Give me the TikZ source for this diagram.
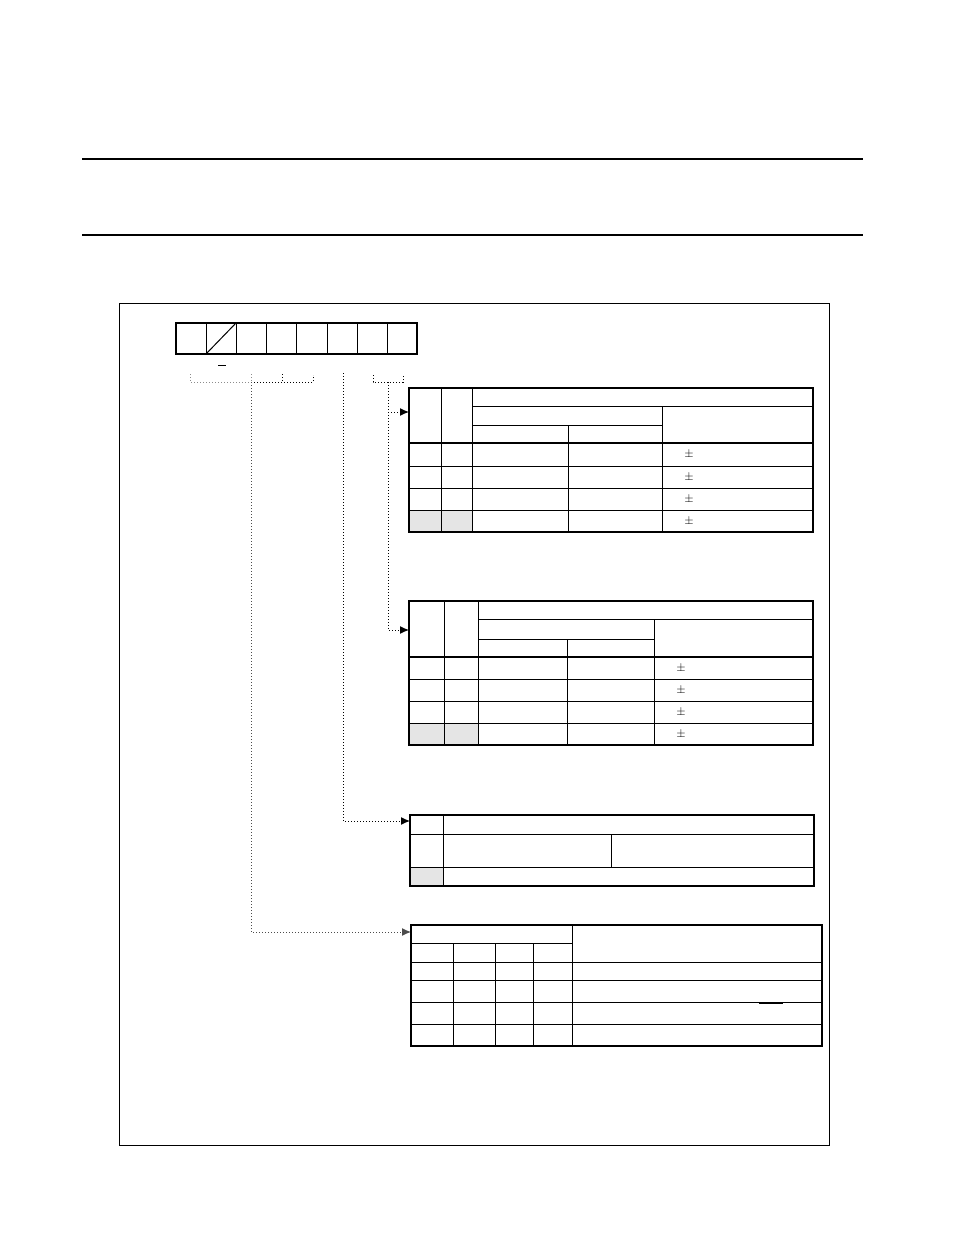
\documentclass[tikz,border=0pt]{standalone}
\usepackage{amsmath}
\usepackage{tikz}
\usetikzlibrary{arrows.meta}

\begin{document}
\begin{tikzpicture}[x=1pt,y=1pt]
\tikzstyle{every node}+=[inner sep=0pt]
\tikzset{cell/.style={black, line width=1pt},
  frame/.style={black, line width=2pt},
  lead/.style={black, line width=1pt, dash pattern=on 1pt off 2pt},
  tip/.style={-{Latex[length=9pt,width=8pt]}},
  pmsign/.style={font=\fontsize{12}{13}\selectfont}}
\useasboundingbox (0,0) rectangle (954,-1235);
% page rules and frame
\draw [black, line width=1.3pt] (82,-159) -- (863,-159);
\draw [black, line width=1.3pt] (82,-235) -- (863,-235);
\draw [black, line width=1pt] (119,-303) rectangle (829,-1145);
% register bits
\foreach \x in {206,236,266,296,327,357,387}
  \draw [cell] (\x,-323) -- (\x,-354);
\draw [frame] (176,-323) rectangle (417,-354);
\draw [cell] (206,-354) -- (236,-323);
\draw [cell] (218,-365) -- (226,-365);
% bit groups
\draw [lead, black!45] (190,-374) -- (190,-382) -- (251,-382);
\draw [lead] (251,-382) -- (313,-382) -- (313,-375);
\draw [lead, black!45] (251,-374) -- (251,-382);
\draw [lead] (282,-374) -- (282,-382);
\draw [lead] (373,-375) -- (373,-382) -- (403,-382) -- (403,-375);
\coordinate (grpA) at (251,-382);
\coordinate (grpB) at (343,-373);
\coordinate (grpC) at (388,-382);
\coordinate (tabA) at (409,-412);
\coordinate (tabB) at (409,-630);
\coordinate (tabC) at (410,-821);
\coordinate (tabD) at (411,-932);
\draw [lead, tip] (grpC) |- (tabA);
\draw [lead, tip] (grpC) |- (tabB);
\draw [lead, tip] (grpB) |- (tabC);
\draw [lead, black!70, tip] (grpA) |- (tabD);
% table 1
\fill [black!10] (409,-510) rectangle (472,-532);
\draw [cell] (472,-406) -- (813,-406);
\draw [cell] (472,-425) -- (662,-425);
\draw [cell] (441,-388) -- (441,-532);
\draw [cell] (472,-388) -- (472,-532);
\draw [cell] (568,-425) -- (568,-532);
\draw [cell] (662,-406) -- (662,-532);
\foreach \y in {466,488,510}
  \draw [cell] (409,-\y) -- (813,-\y);
\draw [frame] (409,-443) -- (813,-443);
\draw [frame] (409,-388) rectangle (813,-532);
\foreach \y [count=\i] in {454.5,477,499,521}
  \node [pmsign] (pmA\i) at (689,-\y) {$\pm$};
% table 2
\fill [black!10] (409,-723) rectangle (478,-745);
\draw [cell] (478,-619) -- (813,-619);
\draw [cell] (478,-639) -- (654,-639);
\draw [cell] (444,-601) -- (444,-745);
\draw [cell] (478,-601) -- (478,-745);
\draw [cell] (567,-639) -- (567,-745);
\draw [cell] (654,-619) -- (654,-745);
\foreach \y in {679,701,723}
  \draw [cell] (409,-\y) -- (813,-\y);
\draw [frame] (409,-657) -- (813,-657);
\draw [frame] (409,-601) rectangle (813,-745);
\foreach \y [count=\i] in {668,690,712,734}
  \node [pmsign] (pmB\i) at (681,-\y) {$\pm$};
% table 3
\fill [black!10] (410,-867) rectangle (443,-886);
\draw [cell] (410,-834) -- (814,-834);
\draw [cell] (410,-867) -- (814,-867);
\draw [cell] (443,-815) -- (443,-886);
\draw [cell] (611,-834) -- (611,-867);
\draw [frame] (410,-815) rectangle (814,-886);
% table 4
\draw [cell] (411,-943) -- (572,-943);
\foreach \x in {453,495,533}
  \draw [cell] (\x,-943) -- (\x,-1046);
\draw [cell] (572,-925) -- (572,-1046);
\foreach \y in {962,980,1002,1024}
  \draw [cell] (411,-\y) -- (822,-\y);
\draw [frame] (411,-925) rectangle (822,-1046);
\draw [black, line width=2pt] (759,-1003) -- (783,-1003);
\end{tikzpicture}
\end{document}
